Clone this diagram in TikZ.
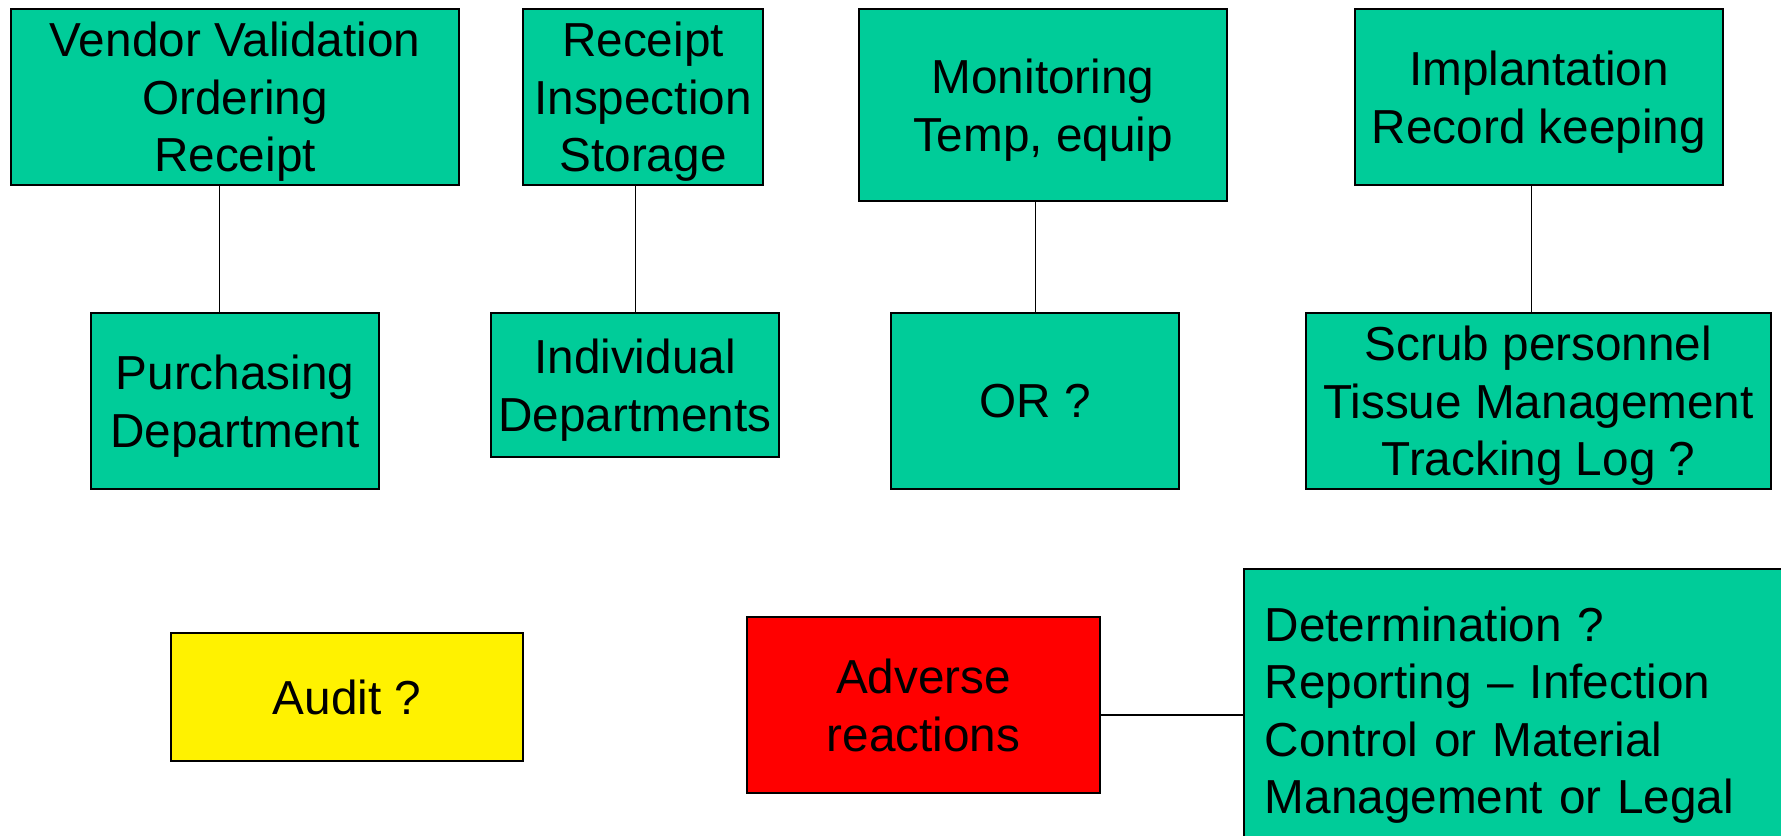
\documentclass[tikz,border=0pt]{standalone}
\usepackage{fontspec}
\setmainfont{Liberation Sans}
\usepackage{xcolor}
\usetikzlibrary{arrows,shapes,backgrounds,calc,positioning}

\definecolor{sea_green}{RGB}{0,204,153}

\begin{document}
\begin{tikzpicture} [x=0.5pt, y=-0.5pt, every node/.style={font=\fontsize{23.85}{28.75}\selectfont}, box/.style={draw, line width=0.75pt, fill=sea_green, align=center, inner sep=0pt, text depth=0pt}, link/.style={line width=0.5pt}]
		
		\useasboundingbox (0,0) rectangle (1781,835);
		
		\begin{scope}
		
		\node (Vendor_T) [box, minimum width=224pt, minimum height=88pt] at (235,97) {Vendor Validation\\Ordering\\Receipt};
		
		\node (Receipt_T) [box, minimum width=120pt, minimum height=88pt] at (643,97) {Receipt\\Inspection\\Storage};
		
		\node (Monitor_T) [box, minimum width=184pt, minimum height=96pt] at (1043,105) {Monitoring\\Temp, equip};
		
		\node (Implant_T) [box, minimum width=184pt, minimum height=88pt] at (1539,97) {Implantation\\Record keeping};
		
		\end{scope}
		
		
		
		\begin{scope}
		
		\node (Purch_B) [box, minimum width=144pt, minimum height=88pt] at (235,401) {Purchasing\\Department};
		
		\node (Depts_B) [box, minimum width=144pt, minimum height=72pt] at (635,385) {Individual\\Departments};
		
		\node (OR_B) [box, minimum width=144pt, minimum height=88pt] at (1035,401) {OR ?};
		
		\node (Scrub_B) [box, minimum width=232.5pt, minimum height=88pt] at (1538.5,401) {Scrub personnel\\Tissue Management\\Tracking Log ?};
		
		
		\draw [link] ($(Vendor_T.south) + (-16,0)$) to ($(Purch_B.north) + (-16,0)$);
		
		\draw [link] (Depts_B.north) to (Depts_B.north |- Receipt_T.south);
		
		\draw [link] (OR_B.north) to (OR_B.north |- Monitor_T.south);
		
		\draw [link] ($(Implant_T.south) + (-8,0)$) to ($(Implant_T.south |- Scrub_B.north) + (-8,0)$);
		
		\end{scope}
		
		
		
		\node (Audit) [box, fill=yellow, minimum width=176pt, minimum height=64pt] at (347,697) {Audit ?};
		
		\node (Adverse) [box, fill=red, minimum width=176.5pt, minimum height=88pt] at (923.5,705) {Adverse\\reactions};
		
		\node (Determ) [box, text depth={}, anchor=west, align=left, inner xsep=10.5pt, text width=257.5pt, minimum height=146pt] at (1243,715) {Determination ?\\Reporting – Infection\\Control or Material\\Management or Legal};
		
		
		\draw [line width=0.75pt] (Determ.west) to (Determ.west -| Adverse.east);
		
		\end{tikzpicture}
\end{document}
